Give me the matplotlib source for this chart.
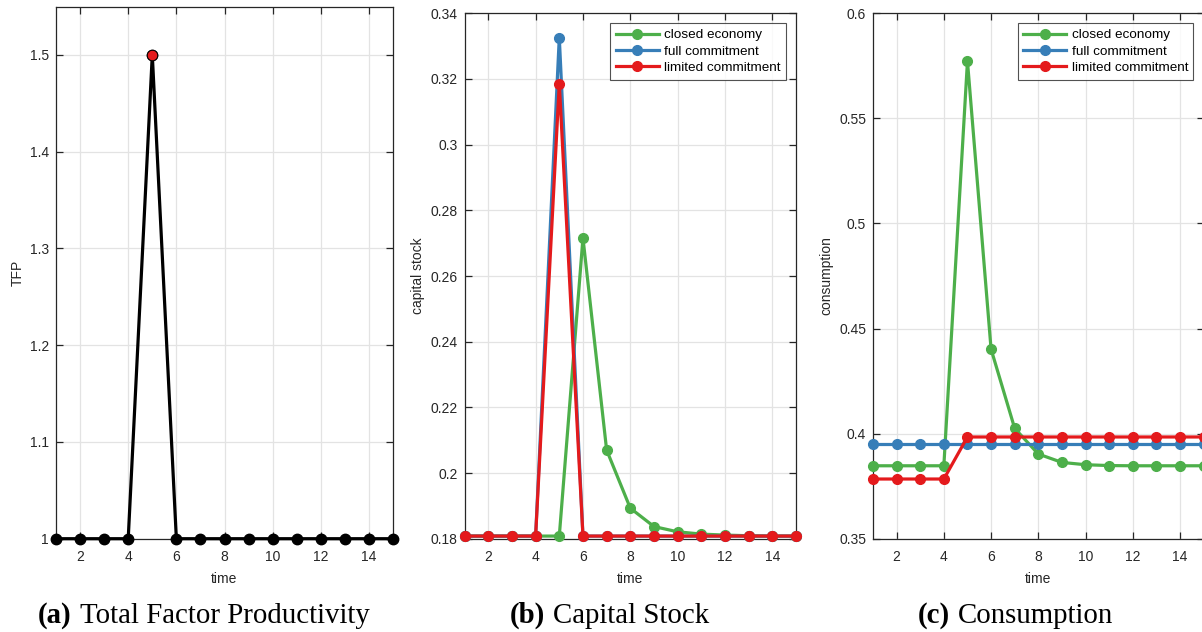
import matplotlib
matplotlib.use("Agg")
import matplotlib.pyplot as plt
from matplotlib.ticker import FuncFormatter

plt.rcParams["font.family"] = ["Liberation Sans", "DejaVu Sans"]

time = list(range(1, 16))

tfp = [1, 1, 1, 1, 1.5, 1, 1, 1, 1, 1, 1, 1, 1, 1, 1]
shock_period = 5

capital_closed = [0.1808, 0.1808, 0.1808, 0.1808, 0.1808, 0.2716, 0.2070, 0.1893,
                  0.1837, 0.1821, 0.1814, 0.1811, 0.1809, 0.1808, 0.1808]
capital_full = [0.1808, 0.1808, 0.1808, 0.1808, 0.3326, 0.1808, 0.1808, 0.1808,
                0.1808, 0.1808, 0.1808, 0.1808, 0.1808, 0.1808, 0.1808]
capital_limited = [0.1808, 0.1808, 0.1808, 0.1808, 0.3186, 0.1808, 0.1808, 0.1808,
                   0.1808, 0.1808, 0.1808, 0.1808, 0.1808, 0.1808, 0.1808]

cons_closed = [0.3847, 0.3847, 0.3847, 0.3847, 0.5772, 0.4402, 0.4025, 0.3903,
               0.3863, 0.3852, 0.3848, 0.3847, 0.3847, 0.3847, 0.3847]
cons_full = [0.395] * 15
cons_limited = [0.3784, 0.3784, 0.3784, 0.3784, 0.3984, 0.3984, 0.3984, 0.3984,
                0.3984, 0.3984, 0.3984, 0.3984, 0.3984, 0.3984, 0.3984]

series_labels = ["closed economy", "full commitment", "limited commitment"]
series_colors = ["#4daf4a", "#377eb8", "#e41a1c"]

captions = [("(a)", "Total Factor Productivity"),
            ("(b)", "Capital Stock"),
            ("(c)", "Consumption")]

W, H = 1202, 632
fig = plt.figure(figsize=(W / 100, H / 100), dpi=100)


def px_axes(left, top, right, bottom):
    return fig.add_axes([left / W, 1 - bottom / H, (right - left) / W, (bottom - top) / H])


def style(ax, ylim, yticks, ylabel):
    ax.set_xlim(1, 15)
    ax.set_ylim(*ylim)
    ax.set_xticks(range(2, 15, 2))
    ax.set_yticks(yticks)
    ax.yaxis.set_major_formatter(FuncFormatter(lambda v, p: f"{v:g}"))
    ax.grid(True, color="#e3e3e3", lw=0.9)
    ax.set_axisbelow(True)
    ax.tick_params(direction="in", top=True, right=True, length=5, width=0.9,
                   colors="#262626", labelsize=10)
    ax.tick_params(axis="x", pad=8)
    ax.tick_params(axis="y", pad=5)
    for s in ax.spines.values():
        s.set_color("#262626")
        s.set_linewidth(0.9)
    ax.set_xlabel("time", fontsize=10, color="#262626", labelpad=6)
    ax.set_ylabel(ylabel, fontsize=10, color="#262626", labelpad=4)


# (a) TFP
ax1 = px_axes(56, 6.5, 393, 538.7)
ax1.plot(time, tfp, color="black", lw=2.3, marker="o", ms=7.5, mfc="black", mec="black",
         clip_on=False, zorder=3)
ax1.plot([shock_period], [tfp[shock_period - 1]], "o", ms=7.5, mfc="#e41a1c", mec="black",
         mew=0.6, zorder=4)
style(ax1, (1, 1.55), [1, 1.1, 1.2, 1.3, 1.4, 1.5], "TFP")

# (b) capital stock
ax2 = px_axes(464.6, 13.3, 796, 538.7)
for vals, lab, col in zip([capital_closed, capital_full, capital_limited], series_labels, series_colors):
    ax2.plot(time, vals, color=col, lw=2.3, marker="o", ms=7, label=lab, clip_on=False, zorder=3)
style(ax2, (0.18, 0.34), [0.18, 0.2, 0.22, 0.24, 0.26, 0.28, 0.3, 0.32, 0.34], "capital stock")

# (c) consumption
ax3 = px_axes(873, 13.3, 1203.6, 538.7)
for vals, lab, col in zip([cons_closed, cons_full, cons_limited], series_labels, series_colors):
    ax3.plot(time, vals, color=col, lw=2.3, marker="o", ms=7, label=lab, clip_on=False, zorder=3)
style(ax3, (0.35, 0.6), [0.35, 0.4, 0.45, 0.5, 0.55, 0.6], "consumption")

for ax in (ax2, ax3):
    leg = ax.legend(loc="upper right", frameon=True, fancybox=False,
                    handlelength=3.2, handletextpad=0.4, borderpad=0.4, labelspacing=0.3,
                    borderaxespad=0.75, prop={"family": "Liberation Sans", "size": 9.7})
    leg.get_frame().set_edgecolor("#262626")
    leg.get_frame().set_linewidth(0.8)

# sub-figure captions: bold tag followed by the title
fig.canvas.draw()
renderer = fig.canvas.get_renderer()
for x0, (tag, txt) in zip([38, 510, 918], captions):
    t = fig.text(x0 / W, 1 - 623 / H, tag, fontsize=20.8, family="Liberation Serif",
                 weight="bold", ha="left", va="baseline")
    bb = t.get_window_extent(renderer)
    fig.text((bb.x1 + 8) / W, 1 - 623 / H, txt, fontsize=20.8, family="Liberation Serif",
             ha="left", va="baseline")

fig.savefig("out.png", dpi=100)
